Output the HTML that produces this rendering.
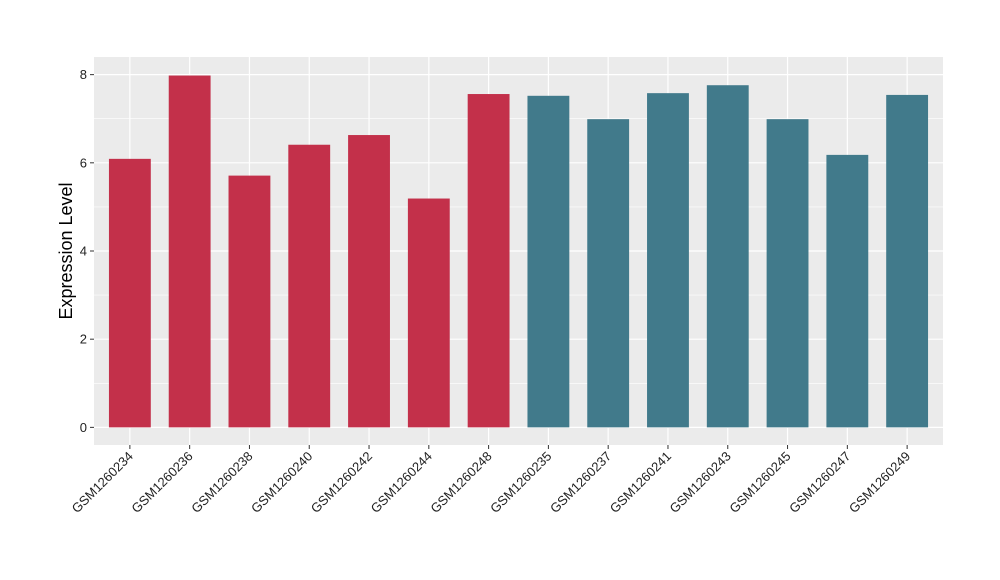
<!DOCTYPE html>
<html><head><meta charset="utf-8"><style>body{margin:0;background:#fff}svg{display:block}</style></head>
<body>
<svg id="chart" width="1000" height="580" xmlns="http://www.w3.org/2000/svg" font-family="Liberation Sans, sans-serif"></svg>
<script>
const categories = ["GSM1260234","GSM1260236","GSM1260238","GSM1260240","GSM1260242","GSM1260244","GSM1260248","GSM1260235","GSM1260237","GSM1260241","GSM1260243","GSM1260245","GSM1260247","GSM1260249"];
const values = [6.09,7.98,5.71,6.41,6.63,5.19,7.56,7.52,6.99,7.58,7.76,6.99,6.18,7.54];
const groups = ["a","a","a","a","a","a","a","b","b","b","b","b","b","b"];
const yTicks = [0,2,4,6,8];
const colors = {a:"#C3304A", b:"#417A8B"};

const svg = document.getElementById('chart');
const NS = "http://www.w3.org/2000/svg";
const L=94, R=943, T=57, B=445;
const yMin=-0.4, yMax=8.4;
const y = v => B - (v - yMin)/(yMax - yMin)*(B - T);
const step = (R-L)/(categories.length + 0.2);
const x = i => L + step*(0.6 + i);
function mk(tag, attrs){const e=document.createElementNS(NS,tag);for(const k in attrs)e.setAttribute(k,attrs[k]);svg.appendChild(e);return e;}

const bg = mk('rect',{x:L,y:T,width:R-L,height:B-T,fill:'#EBEBEB'});


for(let i=0;i<yTicks.length-1;i++){
  const m=(yTicks[i]+yTicks[i+1])/2;
  const g=mk('line',{x1:L,x2:R,y1:y(m),y2:y(m),stroke:'#fff','stroke-width':0.6});
  
  
}
yTicks.forEach(t=>{
  const g=mk('line',{x1:L,x2:R,y1:y(t),y2:y(t),stroke:'#fff','stroke-width':1.2});
  
  
  const tk=mk('line',{x1:L-4,x2:L,y1:y(t),y2:y(t),stroke:'#333','stroke-width':1});
  
  
  const tx=mk('text',{x:L-7,y:y(t)+4.5,'text-anchor':'end','font-size':13,fill:'#222'});
  tx.textContent=t;
  
  
});
categories.forEach((c,i)=>{
  const g=mk('line',{x1:x(i),x2:x(i),y1:T,y2:B,stroke:'#fff','stroke-width':1.2});
  
  
});
categories.forEach((c,i)=>{
  const w=step*0.7;
  const b=mk('rect',{x:x(i)-w/2,y:y(values[i]),width:w,height:y(0)-y(values[i]),fill:colors[groups[i]]});
  
  
  const tk=mk('line',{x1:x(i),x2:x(i),y1:B,y2:B+4,stroke:'#333','stroke-width':1});
  
  
  const tx=mk('text',{x:x(i)+4,y:B+12,'text-anchor':'end','font-size':13,fill:'#222',transform:`rotate(-45 ${x(i)+4} ${B+12})`});
  tx.textContent=c;
  
  
});
const yt=mk('text',{x:72,y:(T+B)/2,'text-anchor':'middle','font-size':18,fill:'#000',transform:`rotate(-90 72 ${(T+B)/2})`});
yt.textContent='Expression Level';


</script>
</body></html>
